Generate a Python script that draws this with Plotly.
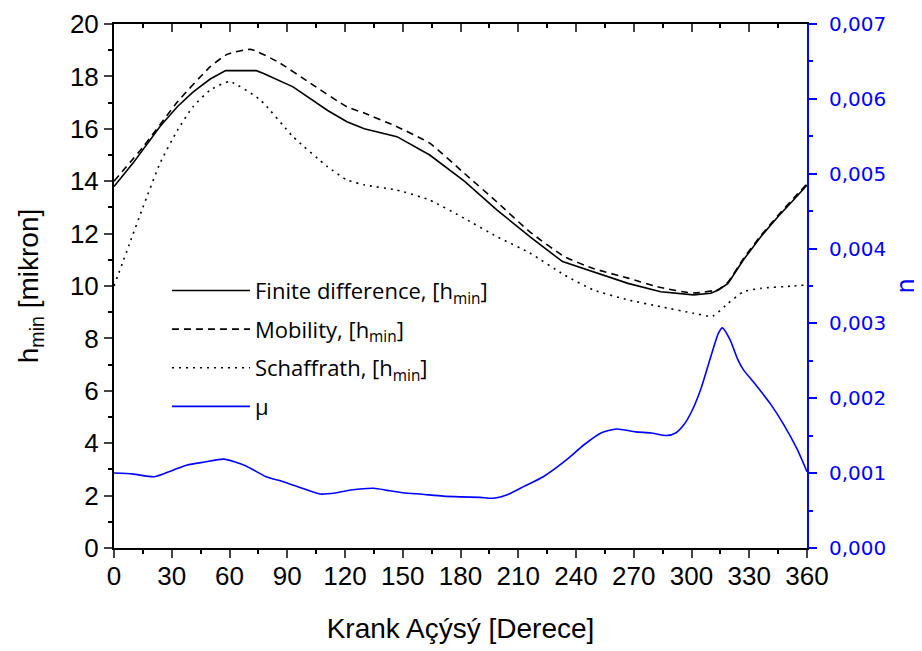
import plotly.graph_objects as go

# ---- data ----
fd_angle = [0, 10, 24, 33, 41, 50, 58, 66, 74, 78, 93, 111, 121, 130, 147, 164, 182, 199, 216, 233,
            249, 267, 284, 301, 310, 314, 319, 327, 336, 345, 353, 360]
fd_h = [13.8, 14.7, 16.1, 16.85, 17.4, 17.9, 18.22, 18.22, 18.22, 18.1, 17.6, 16.7, 16.27, 16.0, 15.7,
        15.0, 14.0, 12.9, 11.88, 10.93, 10.55, 10.1, 9.78, 9.66, 9.72, 9.85, 10.1, 11.0, 11.88, 12.65,
        13.28, 13.85]

mob_angle = [0, 15, 33, 50, 59, 71, 85, 102, 121, 130, 147, 164, 182, 199, 216, 234, 249, 267, 284,
             301, 314, 319, 327, 336, 345, 353, 360]
mob_h = [14.0, 15.3, 17.03, 18.37, 18.85, 19.03, 18.56, 17.74, 16.84, 16.6, 16.08, 15.45, 14.3, 13.2,
         12.07, 11.12, 10.67, 10.3, 9.94, 9.73, 9.87, 10.15, 11.05, 11.92, 12.7, 13.35, 13.9]

sch_angle = [0, 8, 15, 24, 33, 41, 50, 60, 76, 93, 111, 121, 130, 147, 164, 182, 199, 216, 234, 249,
             267, 284, 301, 311, 319, 327, 336, 353, 360]
sch_h = [10.0, 11.6, 13.0, 14.7, 15.95, 16.84, 17.48, 17.8, 17.1, 15.7, 14.55, 14.05, 13.86, 13.66,
         13.28, 12.58, 11.88, 11.26, 10.42, 9.85, 9.47, 9.21, 8.96, 8.85, 9.34, 9.78, 9.91, 10.0, 10.04]

mu_angle = [0, 10, 21, 30, 38, 47, 57, 68, 79, 88, 97, 107, 115, 123, 135, 142, 150, 160, 171, 180,
            190, 197, 205, 213, 223, 235, 244, 253, 261, 271, 279, 287, 292, 296, 300, 305, 310, 314,
            316, 320, 324, 327, 332, 341, 348, 355, 360]
mu = [0.001001, 0.000987, 0.000952, 0.001033, 0.001110, 0.001148, 0.001187, 0.001103, 0.000952,
      0.000886, 0.000805, 0.000721, 0.000735, 0.000774, 0.000798, 0.000770, 0.000739, 0.000718,
      0.000693, 0.000683, 0.000676, 0.000665, 0.000718, 0.000823, 0.000952, 0.001176, 0.001376,
      0.001537, 0.001589, 0.001551, 0.001537, 0.001502, 0.001540, 0.001645, 0.001820, 0.002135,
      0.002555, 0.002870, 0.002940, 0.002783, 0.002520, 0.002380, 0.002223, 0.001925, 0.001645,
      0.001313, 0.001019]

x_ticks = list(range(0, 361, 30))
left_ticks = list(range(0, 21, 2))
right_ticks = [0.000, 0.001, 0.002, 0.003, 0.004, 0.005, 0.006, 0.007]

AX_FONT = "Liberation Sans, Arial, sans-serif"
LEG_FONT = "Open Sans, sans-serif"
BLUE = "#0000FF"

fig = go.Figure()
fig.add_trace(go.Scatter(x=fd_angle, y=fd_h, mode="lines", name="Finite difference, [h<sub>min</sub>]",
                         legendgroup="a", line=dict(color="black", width=1.6)))
fig.add_trace(go.Scatter(x=mob_angle, y=mob_h, mode="lines", name="Mobility, [h<sub>min</sub>]",
                         legendgroup="b",
                         line=dict(color="black", width=1.6, dash="7px,5px", shape="spline", smoothing=0.5)))
fig.add_trace(go.Scatter(x=sch_angle, y=sch_h, mode="lines", name="Schaffrath, [h<sub>min</sub>]",
                         legendgroup="c",
                         line=dict(color="black", width=1.6, dash="2px,5px", shape="spline", smoothing=0.5)))
fig.add_trace(go.Scatter(x=mu_angle, y=mu, mode="lines", name="μ", yaxis="y2", legendgroup="d",
                         line=dict(color=BLUE, width=1.6, shape="spline", smoothing=0.6)))
# invisible trace for top axis
fig.add_trace(go.Scatter(x=[0, 360], y=[0, 0], xaxis="x2", mode="lines", showlegend=False,
                         line=dict(width=0), hoverinfo="skip"))

fig.update_layout(
    width=914, height=643,
    margin=dict(l=106, r=115, t=16, b=103),
    paper_bgcolor="white", plot_bgcolor="white",
    separators=",.",
    showlegend=True,
    legend=dict(x=0.0765, y=0.531, xanchor="left", yanchor="top", bgcolor="rgba(0,0,0,0)",
                font=dict(family=LEG_FONT, size=22, color="black"), tracegroupgap=7,
                itemwidth=78),
    xaxis=dict(range=[0, 360], tickvals=x_ticks, ticks="outside", ticklen=8, tickwidth=2,
               showline=True, linecolor="black", linewidth=2, showgrid=False, zeroline=False,
               automargin=False, ticklabelstandoff=-4,
               tickfont=dict(family=AX_FONT, size=26, color="black"),
               minor=dict(dtick=15, ticks="outside", ticklen=4, tickwidth=2, tickcolor="black"),
               title=dict(text="Krank Açýsý [Derece]", font=dict(family=AX_FONT, size=28, color="black"),
                          standoff=28)),
    xaxis2=dict(range=[0, 360], overlaying="x", side="top", tickvals=x_ticks, ticks="inside",
                ticklen=8, tickwidth=2, showline=True, linecolor="black", linewidth=2,
                showticklabels=False, showgrid=False, zeroline=False, automargin=False,
                minor=dict(dtick=15, ticks="inside", ticklen=4, tickwidth=2, tickcolor="black")),
    yaxis=dict(range=[0, 20], tickvals=left_ticks, ticks="outside", ticklen=8, tickwidth=2,
               showline=True, linecolor="black", linewidth=2, showgrid=False, zeroline=False,
               automargin=False, ticklabelstandoff=0,
               tickfont=dict(family=AX_FONT, size=26, color="black"),
               minor=dict(dtick=1, ticks="outside", ticklen=4, tickwidth=2, tickcolor="black"),
               title=dict(text="h<sub>min</sub> [mikron]", font=dict(family=AX_FONT, size=28, color="black"),
                          standoff=23)),
    yaxis2=dict(range=[0, 0.007], overlaying="y", side="right", tickvals=right_ticks,
                tickformat=".3f", ticks="outside", ticklen=8, tickwidth=2, tickcolor=BLUE,
                showline=True, linecolor=BLUE, linewidth=2, showgrid=False, zeroline=False,
                automargin=False, ticklabelstandoff=8,
                tickfont=dict(family="DejaVu Sans, sans-serif", size=20, color=BLUE),
                minor=dict(dtick=0.0005, ticks="outside", ticklen=4, tickwidth=2, tickcolor=BLUE),
                title=dict(text="η", font=dict(family="DejaVu Sans, sans-serif", size=24, color=BLUE),
                           standoff=12)),
)

fig.write_html("out.html")
